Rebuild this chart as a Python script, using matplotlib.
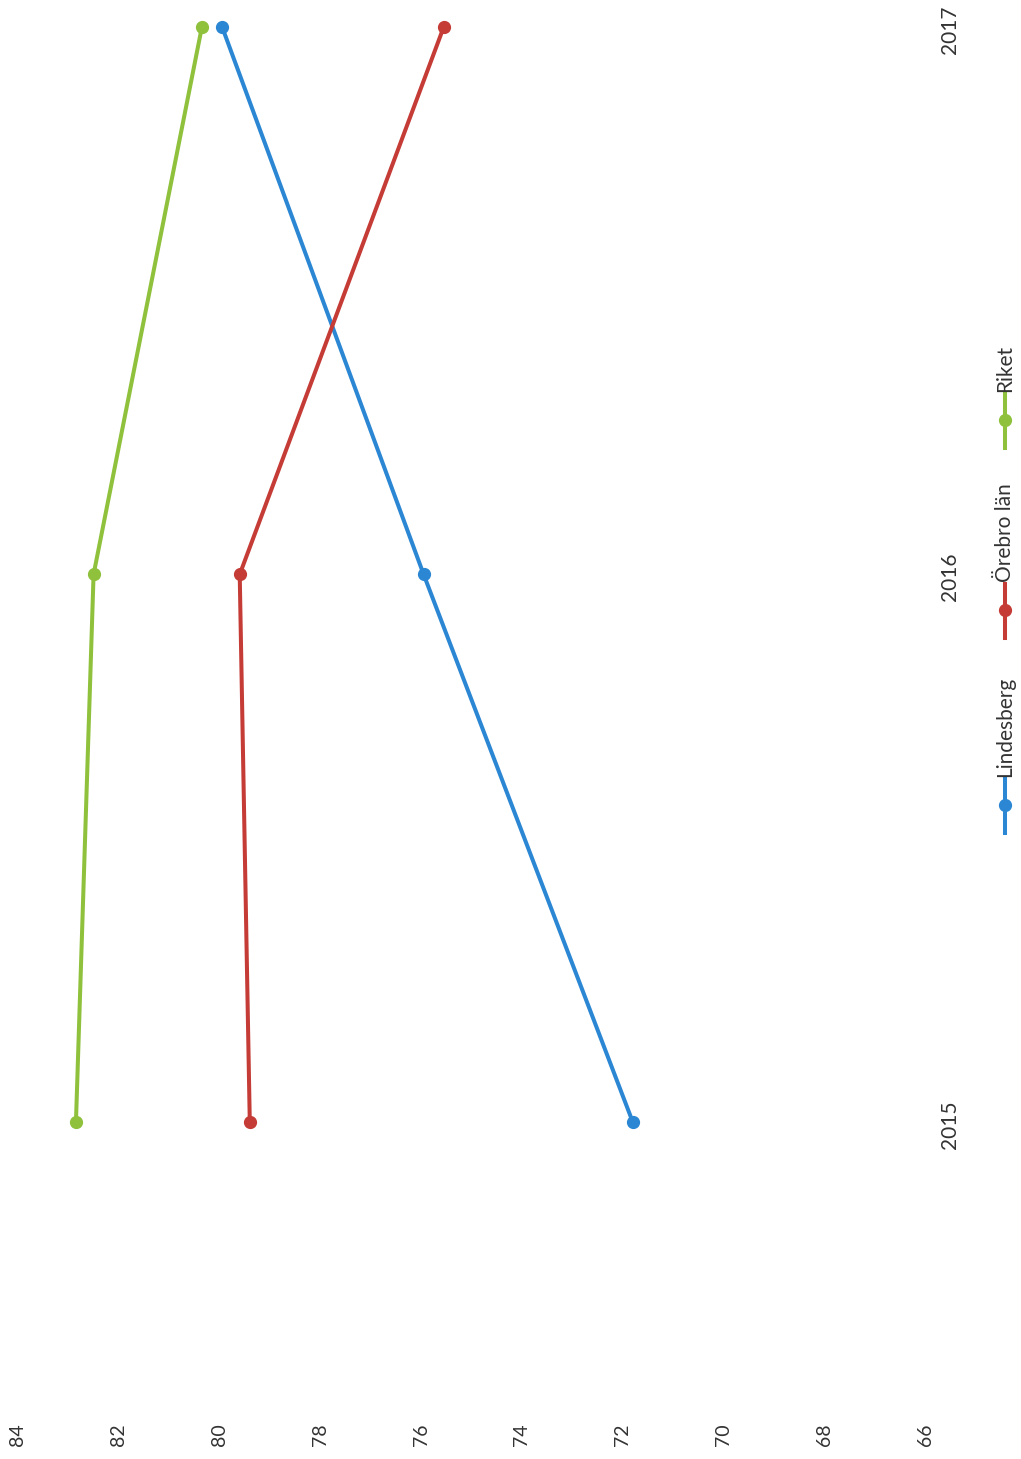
import matplotlib.pyplot as plt
from matplotlib.lines import Line2D
import matplotlib.transforms as mtransforms

plt.rcParams['font.family'] = ['Lato', 'DejaVu Sans']

# data
years = ["2015", "2016", "2017"]
lindesberg = [71.8, 75.95, 79.95]
orebro = [79.4, 79.6, 75.55]
riket = [82.85, 82.5, 80.35]
value_ticks = [84, 82, 80, 78, 76, 74, 72, 70, 68, 66]

series = [("Lindesberg", lindesberg, "#2b87d3"),
          ("Örebro län", orebro, "#c53b36"),
          ("Riket", riket, "#8fc13c")]

fig = plt.figure(figsize=(10.21, 14.59), dpi=100)
ax = fig.add_axes([18 / 1021, 0, 907 / 1021, 1])
ax.set_xlim(84, 66)
ax.set_ylim(-0.6155, 2.049)
ax.axis("off")

pos = list(range(len(years)))
for name, vals, col in series:
    ax.plot(vals, pos, color=col, lw=2.9, marker="o", ms=8.5, solid_capstyle="round")

# value axis labels (rotated chart)
trans = mtransforms.blended_transform_factory(ax.transData, fig.transFigure)
for v in value_ticks:
    ax.text(v, 1 - 1435 / 1459, str(v), transform=trans, rotation=90,
            ha="center", va="center", fontsize=14, color="#333333")

# category labels
trans2 = mtransforms.blended_transform_factory(fig.transFigure, ax.transData)
for i, y in enumerate(years):
    ax.text(950 / 1021, i - 0.005, y, transform=trans2, rotation=90,
            ha="center", va="center", fontsize=15, color="#333333")

# legend drawn by hand, vertical
legend_y = [805, 610, 420]
lx = 1005 / 1021
for (name, vals, col), ly in zip(series, legend_y):
    y0 = 1 - (ly + 28) / 1459
    y1 = 1 - (ly - 26) / 1459
    fig.add_artist(Line2D([lx, lx], [y0, y1], color=col, lw=2.9,
                          transform=fig.transFigure))
    fig.add_artist(Line2D([lx], [1 - ly / 1459], color=col, marker="o", ms=8.5,
                          transform=fig.transFigure))
    fig.text(lx, 1 - (ly - 28) / 1459, name, rotation=90, ha="center", va="bottom",
             fontsize=15, color="#333333")

fig.savefig("out.png", dpi=100)
